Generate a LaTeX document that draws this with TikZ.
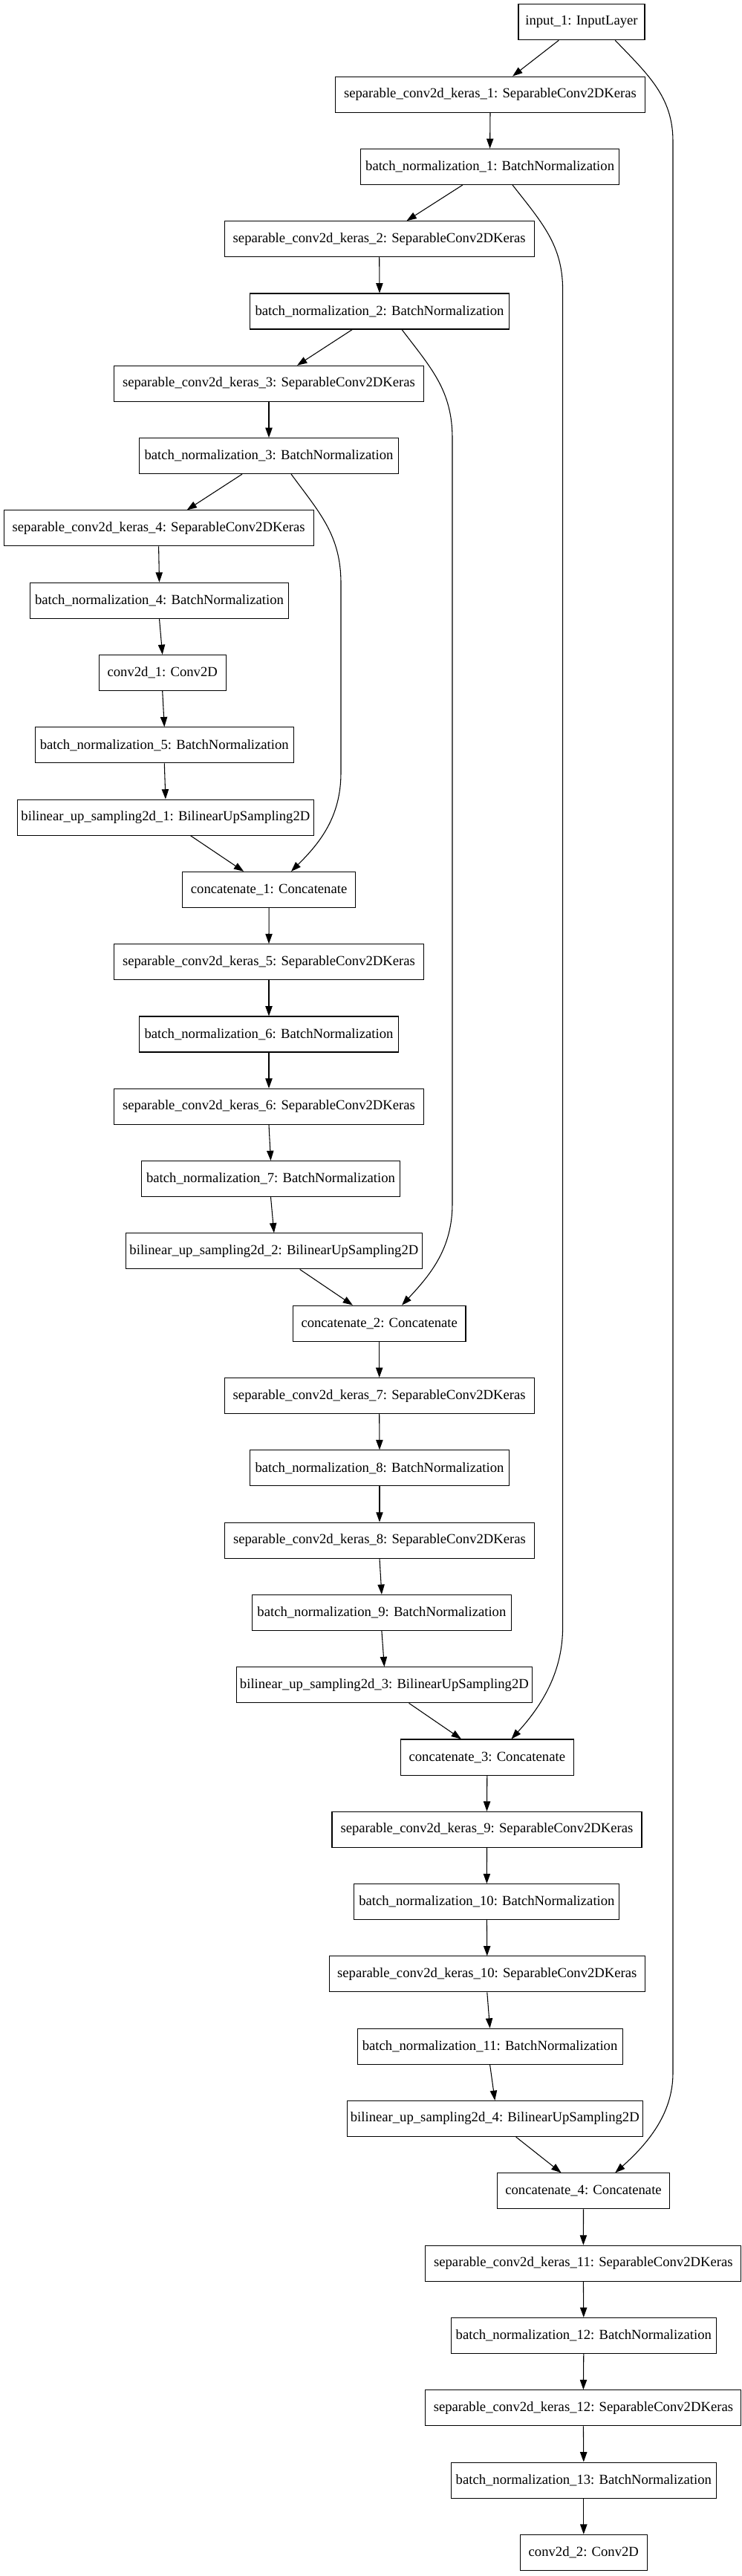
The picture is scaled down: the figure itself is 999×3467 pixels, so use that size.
\documentclass[tikz,border=0pt]{standalone}
\usepackage{fontspec}
\setmainfont{Liberation Serif}
\usetikzlibrary{arrows.meta,calc}
\begin{document}
\begin{tikzpicture}[x=0.75pt,y=-0.75pt,
 layer/.style={draw=black,line width=0.8pt,minimum height=36pt,inner xsep=2pt,inner ysep=0pt,font=\fontsize{14}{16}\selectfont,fill=white},
 inputbox/.style={layer,minimum width=127.5pt},
 sepbox/.style={layer,minimum width=312.75pt},
 sepwide/.style={layer,minimum width=318.75pt},
 bnbox/.style={layer,minimum width=261.3pt},
 bnwide/.style={layer,minimum width=267.75pt},
 upbox/.style={layer,minimum width=298.9pt},
 catbox/.style={layer,minimum width=174.4pt},
 convbox/.style={layer,minimum width=128.25pt},
 conn/.style={draw=black,line width=0.8pt,-{Triangle[length=10pt,width=7pt]}}
]
\useasboundingbox (0,0) rectangle (999,3467);

\node[inputbox] (in1) at (783,29.8) {input\_1: InputLayer};
\node[sepbox] (s1) at (660,127.1) {separable\_conv2d\_keras\_1: SeparableConv2DKeras};
\node[bnbox] (b1) at (659.6,224.4) {batch\_normalization\_1: BatchNormalization};
\node[sepbox] (s2) at (510.7,321.7) {separable\_conv2d\_keras\_2: SeparableConv2DKeras};
\node[bnbox] (b2) at (511,419.0) {batch\_normalization\_2: BatchNormalization};
\node[sepbox] (s3) at (362,516.3) {separable\_conv2d\_keras\_3: SeparableConv2DKeras};
\node[bnbox] (b3) at (362,613.6) {batch\_normalization\_3: BatchNormalization};
\node[sepbox] (s4) at (213.6,710.9) {separable\_conv2d\_keras\_4: SeparableConv2DKeras};
\node[bnbox] (b4) at (214.5,808.2) {batch\_normalization\_4: BatchNormalization};
\node[convbox] (c1) at (218.7,905.5) {conv2d\_1: Conv2D};
\node[bnbox] (b5) at (221.3,1002.8) {batch\_normalization\_5: BatchNormalization};
\node[upbox] (u1) at (222.9,1100.1) {bilinear\_up\_sampling2d\_1: BilinearUpSampling2D};
\node[catbox] (k1) at (362.1,1197.4) {concatenate\_1: Concatenate};
\node[sepbox] (s5) at (362,1294.7) {separable\_conv2d\_keras\_5: SeparableConv2DKeras};
\node[bnbox] (b6) at (362,1392.0) {batch\_normalization\_6: BatchNormalization};
\node[sepbox] (s6) at (362,1489.3) {separable\_conv2d\_keras\_6: SeparableConv2DKeras};
\node[bnbox] (b7) at (364.5,1586.6) {batch\_normalization\_7: BatchNormalization};
\node[upbox] (u2) at (368.9,1683.9) {bilinear\_up\_sampling2d\_2: BilinearUpSampling2D};
\node[catbox] (k2) at (510.7,1781.2) {concatenate\_2: Concatenate};
\node[sepbox] (s7) at (510.7,1878.5) {separable\_conv2d\_keras\_7: SeparableConv2DKeras};
\node[bnbox] (b8) at (511,1975.8) {batch\_normalization\_8: BatchNormalization};
\node[sepbox] (s8) at (511,2073.1) {separable\_conv2d\_keras\_8: SeparableConv2DKeras};
\node[bnbox] (b9) at (513.9,2170.4) {batch\_normalization\_9: BatchNormalization};
\node[upbox] (u3) at (517.4,2267.7) {bilinear\_up\_sampling2d\_3: BilinearUpSampling2D};
\node[catbox] (k3) at (655.8,2365.0) {concatenate\_3: Concatenate};
\node[sepbox] (s9) at (655.5,2462.3) {separable\_conv2d\_keras\_9: SeparableConv2DKeras};
\node[bnwide] (b10) at (655.4,2559.6) {batch\_normalization\_10: BatchNormalization};
\node[sepwide] (s10) at (655.8,2656.9) {separable\_conv2d\_keras\_10: SeparableConv2DKeras};
\node[bnwide] (b11) at (659.6,2754.2) {batch\_normalization\_11: BatchNormalization};
\node[upbox] (u4) at (666.3,2851.5) {bilinear\_up\_sampling2d\_4: BilinearUpSampling2D};
\node[catbox] (k4) at (785.5,2948.8) {concatenate\_4: Concatenate};
\node[sepwide] (s11) at (785.4,3046.1) {separable\_conv2d\_keras\_11: SeparableConv2DKeras};
\node[bnwide] (b12) at (785.8,3143.4) {batch\_normalization\_12: BatchNormalization};
\node[sepwide] (s12) at (785.4,3240.7) {separable\_conv2d\_keras\_12: SeparableConv2DKeras};
\node[bnwide] (b13) at (785.8,3338.0) {batch\_normalization\_13: BatchNormalization};
\node[convbox] (c2) at (785.8,3435.3) {conv2d\_2: Conv2D};

% straight connectors
\draw[conn] ($(in1.south west)!0.32!(in1.south east)$) -- ($(s1.north west)!0.572!(s1.north east)$);
\draw[conn] (s1.south) -- (b1.north);
\draw[conn] ($(b1.south west)!0.395!(b1.south east)$) -- ($(s2.north west)!0.588!(s2.north east)$);
\draw[conn] (s2.south) -- (b2.north);
\draw[conn] ($(b2.south west)!0.395!(b2.south east)$) -- ($(s3.north west)!0.591!(s3.north east)$);
\draw[conn] (s3.south) -- (b3.north);
\draw[conn] ($(b3.south west)!0.397!(b3.south east)$) -- ($(s4.north west)!0.591!(s4.north east)$);
\draw[conn] (s4.south) -- (b4.north);
\draw[conn] (b4.south) -- (c1.north);
\draw[conn] (c1.south) -- (b5.north);
\draw[conn] (b5.south) -- (u1.north);
\draw[conn] ($(u1.south west)!0.584!(u1.south east)$) -- ($(k1.north west)!0.355!(k1.north east)$);
\draw[conn] (k1.south) -- (s5.north);
\draw[conn] (s5.south) -- (b6.north);
\draw[conn] (b6.south) -- (s6.north);
\draw[conn] (s6.south) -- (b7.north);
\draw[conn] (b7.south) -- (u2.north);
\draw[conn] ($(u2.south west)!0.587!(u2.south east)$) -- ($(k2.north west)!0.347!(k2.north east)$);
\draw[conn] (k2.south) -- (s7.north);
\draw[conn] (s7.south) -- (b8.north);
\draw[conn] (b8.south) -- (s8.north);
\draw[conn] (s8.south) -- (b9.north);
\draw[conn] (b9.south) -- (u3.north);
\draw[conn] ($(u3.south west)!0.583!(u3.south east)$) -- ($(k3.north west)!0.351!(k3.north east)$);
\draw[conn] (k3.south) -- (s9.north);
\draw[conn] (s9.south) -- (b10.north);
\draw[conn] (b10.south) -- (s10.north);
\draw[conn] (s10.south) -- (b11.north);
\draw[conn] (b11.south) -- (u4.north);
\draw[conn] ($(u4.south west)!0.571!(u4.south east)$) -- ($(k4.north west)!0.372!(k4.north east)$);
\draw[conn] (k4.south) -- (s11.north);
\draw[conn] (s11.south) -- (b12.north);
\draw[conn] (b12.south) -- (s12.north);
\draw[conn] (s12.south) -- (b13.north);
\draw[conn] (b13.south) -- (c2.north);

% skip connectors
\coordinate (v1a) at (906,190);
\coordinate (v1b) at (906,2790);
\draw[conn] ($(in1.south west)!0.765!(in1.south east)$) .. controls (872,100) and (906,130) .. (v1a) -- (v1b) .. controls (906,2845) and (872,2885) .. ($(k4.north west)!0.683!(k4.north east)$);

\coordinate (v2a) at (757.6,390);
\coordinate (v2b) at (757.6,2190);
\draw[conn] ($(b1.south west)!0.587!(b1.south east)$) .. controls (730,300) and (757.6,330) .. (v2a) -- (v2b) .. controls (757.6,2250) and (730,2295) .. ($(k3.north west)!0.64!(k3.north east)$);

\coordinate (v3a) at (609,590);
\coordinate (v3b) at (609,1620);
\draw[conn] ($(b2.south west)!0.586!(b2.south east)$) .. controls (580,495) and (609,525) .. (v3a) -- (v3b) .. controls (609,1680) and (580,1715) .. ($(k2.north west)!0.63!(k2.north east)$);

\coordinate (v4a) at (459,785);
\coordinate (v4b) at (459,1040);
\draw[conn] ($(b3.south west)!0.586!(b3.south east)$) .. controls (430,690) and (459,720) .. (v4a) -- (v4b) .. controls (459,1100) and (430,1135) .. ($(k1.north west)!0.628!(k1.north east)$);
\end{tikzpicture}
\end{document}
